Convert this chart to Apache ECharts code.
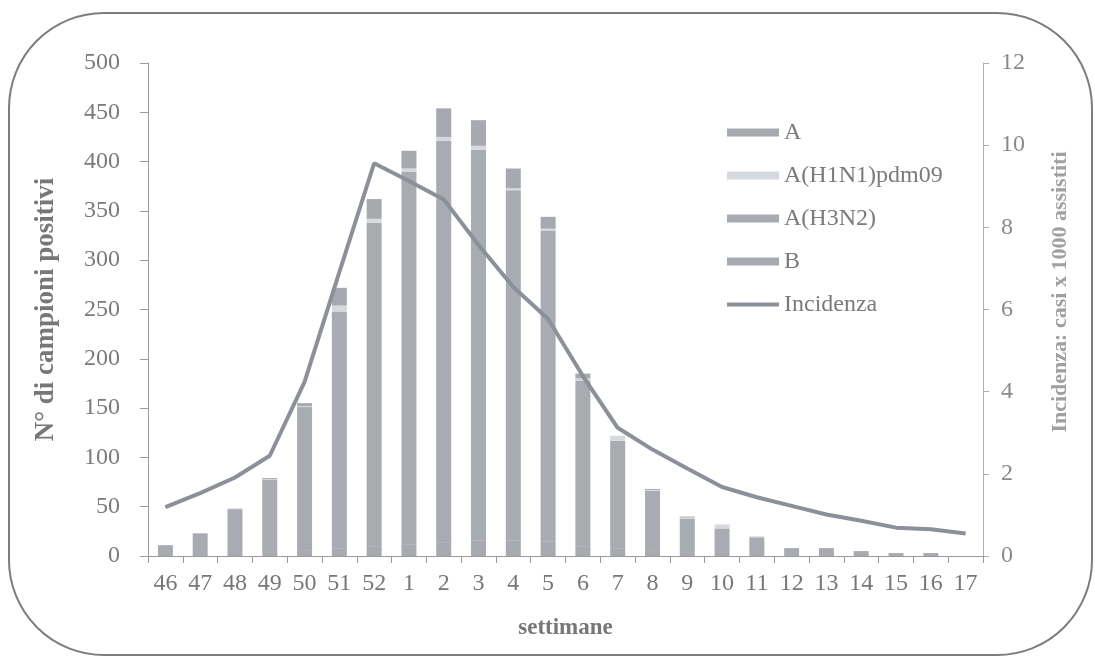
<!DOCTYPE html>
<html>
<head>
<meta charset="utf-8">
<script src="https://cdn.jsdelivr.net/npm/echarts@6/dist/echarts.min.js"></script>
<style>
html,body{margin:0;padding:0;background:#fff;}
#chart{width:1095px;height:663px;}
</style>
</head>
<body>
<div id="chart"></div>
<script>
// ---- data ----
var weeks = ['46','47','48','49','50','51','52','1','2','3','4','5','6','7','8','9','10','11','12','13','14','15','16','17'];
var seriesNames = ['A', 'A(H1N1)pdm09', 'A(H3N2)', 'B', 'Incidenza'];
var valB     = [1, 2, 3, 4, 6, 8, 10, 12, 14, 16, 16, 15, 10, 8, 6, 4, 4, 3, 2, 2, 1, 1, 1, 0];
var valH3N2  = [10, 21, 44, 73, 145, 240, 328, 378, 407, 396, 355, 315, 168, 109, 60, 34, 24, 16, 6, 6, 4, 2, 2, 0];
var valH1N1  = [0, 0, 0, 1, 1, 6, 4, 3, 4, 4, 2, 2, 2, 5, 1, 1, 4, 1, 0, 0, 0, 0, 0, 0];
var valA     = [0, 0, 1, 1, 3, 18, 20, 18, 29, 26, 20, 12, 5, 0, 1, 1, 0, 0, 0, 0, 0, 0, 0, 0];
var incidenza = [1.19, 1.53, 1.91, 2.44, 4.24, 6.91, 9.56, 9.13, 8.68, 7.57, 6.55, 5.77, 4.38, 3.12, 2.59, 2.13, 1.68, 1.43, 1.22, 1.01, 0.86, 0.69, 0.65, 0.55];
var leftTicks = {min: 0, max: 500, interval: 50};
var rightTicks = {min: 0, max: 12, interval: 2};
var rightTitle = 'Incidenza: casi x 1000 assistiti';

var FONT = '"Liberation Serif", "DejaVu Serif", serif';
var chart = echarts.init(document.getElementById('chart'), null, {renderer: 'canvas'});

function barSeries(name, data, color) {
  return {
    name: name, type: 'bar', stack: 'tot', data: data, barWidth: 15,
    itemStyle: {color: color}, yAxisIndex: 0, emphasis: {disabled: true}
  };
}

var option = {
  backgroundColor: '#ffffff',
  animation: false,
  grid: {left: 148, right: 112, top: 63, bottom: 107, containLabel: false},
  legend: {
    orient: 'vertical', left: 722, top: 115,
    itemWidth: 52, itemHeight: 8, itemGap: 18,
    textStyle: {fontFamily: FONT, fontSize: 24, color: '#7a7a7a', lineHeight: 25},
    data: [
      {name: seriesNames[0], icon: 'rect'},
      {name: seriesNames[1], icon: 'rect'},
      {name: seriesNames[2], icon: 'rect'},
      {name: seriesNames[3], icon: 'rect'},
      {name: seriesNames[4], icon: 'path://M0,0 L52,0 L52,4 L0,4 Z'}
    ]
  },
  xAxis: {
    type: 'category', data: weeks, boundaryGap: true,
    name: 'settimane', nameLocation: 'middle', nameGap: 61,
    nameTextStyle: {fontFamily: FONT, fontSize: 23, fontWeight: 'bold', color: '#777'},
    axisLine: {show: true, lineStyle: {color: '#9a9a9a', width: 1}},
    axisTick: {show: true, alignWithLabel: false, interval: 0, length: 7, lineStyle: {color: '#9a9a9a'}},
    axisLabel: {interval: 0, margin: 16, fontFamily: FONT, fontSize: 24, color: '#777'},
    splitLine: {show: false}
  },
  yAxis: [
    {
      type: 'value', position: 'left', min: leftTicks.min, max: leftTicks.max, interval: leftTicks.interval,
      name: 'N° di campioni positivi', nameLocation: 'middle', nameGap: 88,
      nameTextStyle: {fontFamily: FONT, fontSize: 27, fontWeight: 'bold', color: '#777'},
      axisLine: {show: true, lineStyle: {color: '#9a9a9a', width: 1}},
      axisTick: {show: true, length: 8, lineStyle: {color: '#9a9a9a'}},
      axisLabel: {margin: 28, fontFamily: FONT, fontSize: 24, color: '#7a7a7a'},
      splitLine: {show: false}
    },
    {
      type: 'value', position: 'right', min: rightTicks.min, max: rightTicks.max, interval: rightTicks.interval,
      axisLine: {show: true, lineStyle: {color: '#b0b0b0', width: 1}},
      axisTick: {show: true, length: 6, lineStyle: {color: '#b0b0b0'}},
      axisLabel: {margin: 18, fontFamily: FONT, fontSize: 24, color: '#8a8a8a'},
      splitLine: {show: false}
    }
  ],
  series: [
    barSeries(seriesNames[3], valB, '#a8aab1'),
    barSeries(seriesNames[2], valH3N2, '#a9abb2'),
    barSeries(seriesNames[1], valH1N1, '#d6d9de'),
    barSeries(seriesNames[0], valA, '#a7a9b0'),
    {
      name: seriesNames[4], type: 'line', yAxisIndex: 1, data: incidenza,
      symbol: 'none', smooth: false,
      lineStyle: {color: '#8c9098', width: 4},
      itemStyle: {color: '#8c9098'},
      emphasis: {disabled: true}, z: 5
    }
  ],
  graphic: [
    {
      type: 'rect', silent: true, z: -1,
      shape: {x: 9, y: 13, width: 1083, height: 642, r: 95},
      style: {fill: 'none', stroke: '#7d7d7d', lineWidth: 2}
    },
    {
      type: 'text', silent: true, x: 1060, y: 292, rotation: Math.PI / 2,
      style: {text: rightTitle, fontFamily: FONT, fontSize: 22, fontWeight: 'bold', fill: '#a0a0a0',
              align: 'center', verticalAlign: 'middle'}
    }
  ]
};
chart.setOption(option);
</script>
</body>
</html>
